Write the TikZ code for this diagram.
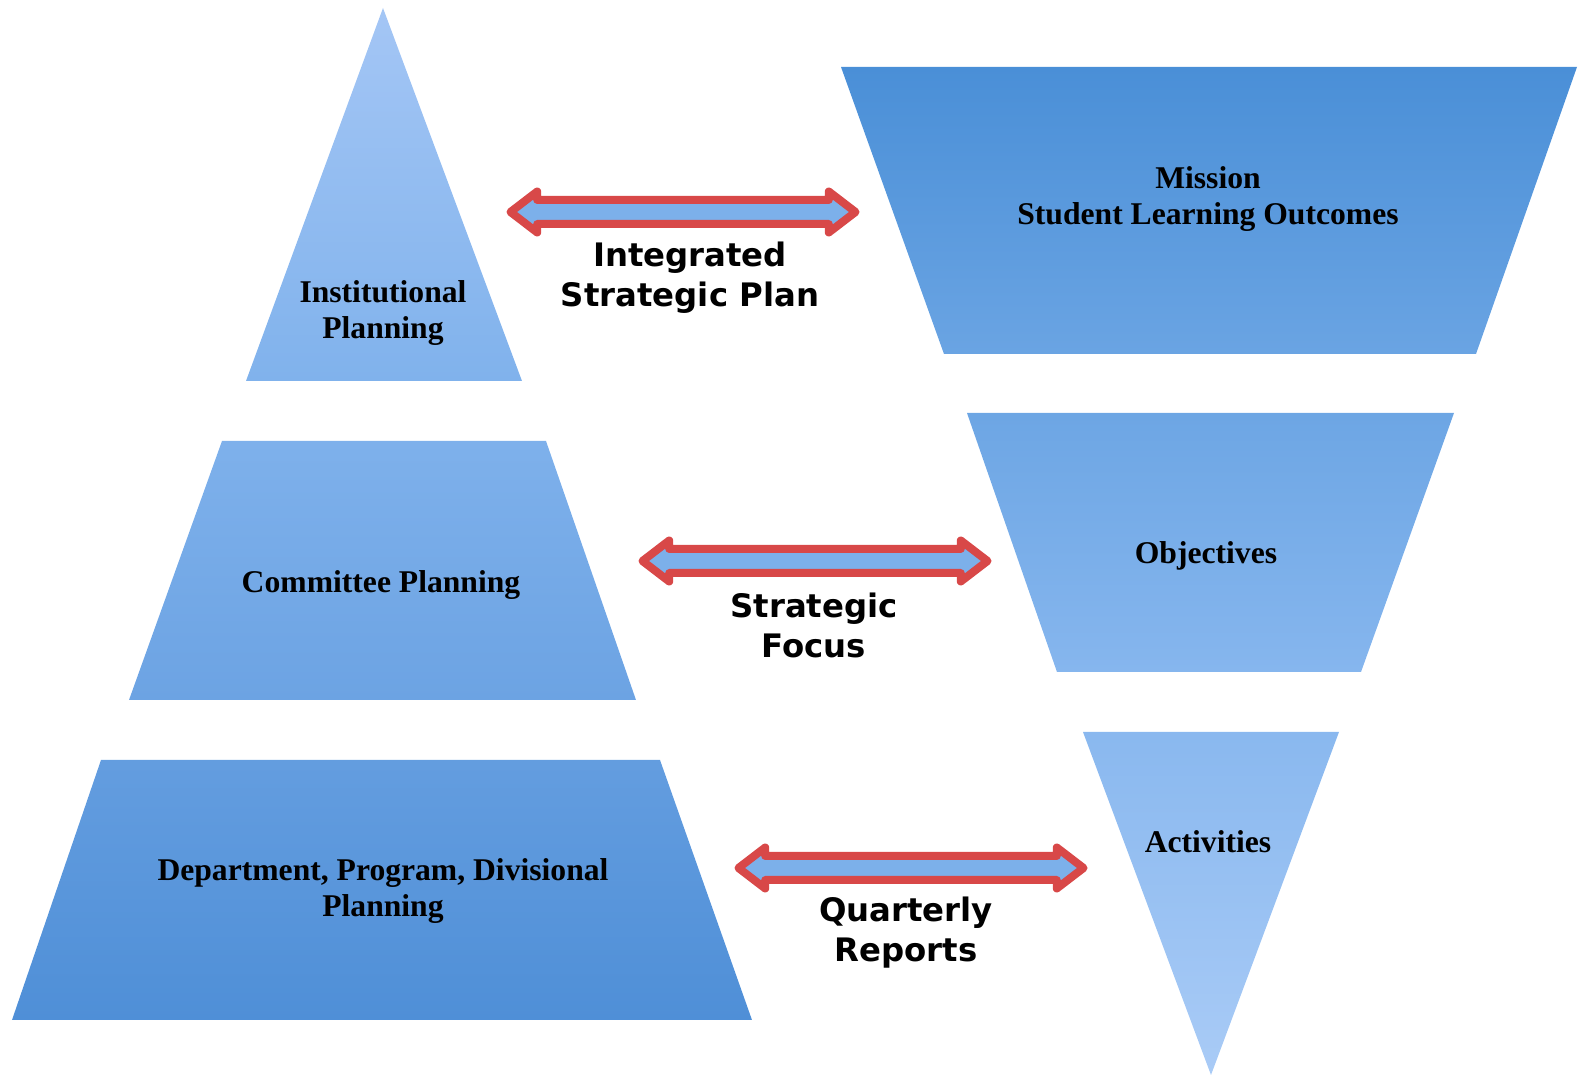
\documentclass[tikz,border=0pt]{standalone}
\usepackage{fontspec}
\setmainfont{Liberation Serif}
\newfontfamily\labelfont{DejaVu Sans}
\usetikzlibrary{shapes.arrows}

\definecolor{leftA}{HTML}{A4C6F5}
\definecolor{leftB}{HTML}{80B2EC}
\definecolor{leftC}{HTML}{6CA3E3}
\definecolor{leftD}{HTML}{4F8FD7}
\definecolor{rightA}{HTML}{4A8FD7}
\definecolor{rightB}{HTML}{6AA4E3}
\definecolor{rightC}{HTML}{86B6EE}
\definecolor{rightD}{HTML}{A9CBF6}
\definecolor{arrowblue}{HTML}{7CB0EA}
\definecolor{arrowred}{HTML}{D84848}

\tikzset{
  planlabel/.style={font=\fontsize{9}{10.2}\selectfont\bfseries, align=center, text=black},
  linklabel/.style={font=\labelfont\fontsize{9.2}{11.4}\selectfont\bfseries, align=center, text=black},
  linkarrow/.style={double arrow, fill=arrowblue, draw=arrowred, line width=0.8mm, line join=round,
    inner sep=0pt, inner ysep=0.8mm, double arrow head extend=0.85mm, double arrow tip angle=75,
    minimum height=34.5mm}
}

\begin{document}
\begin{tikzpicture}[x=0.1mm, y=-0.1mm]

\useasboundingbox (0,0) rectangle (1579,1076);

% left column: pyramid
\shade[top color=leftA, bottom color=leftB] (383,8) -- (522,381) -- (246,381) -- cycle;   %institutional
\shade[top color=leftB!90!leftC, bottom color=leftC] (222,441) -- (546,441) -- (636,700) -- (129,700) -- cycle;   %committee
\shade[top color=leftC!70!leftD, bottom color=leftD] (101,760) -- (660,760) -- (752,1020) -- (12,1020) -- cycle;   %department

% right column: inverted pyramid
\shade[top color=rightA, bottom color=rightB] (841,67) -- (1577,67) -- (1476,354) -- (944,354) -- cycle;   %mission
\shade[top color=rightB!90!rightC, bottom color=rightC] (967,413) -- (1454,413) -- (1361,672) -- (1057,672) -- cycle;   %objectives
\shade[top color=rightC!90!rightD, bottom color=rightD] (1083,732) -- (1339,732) -- (1211,1075) -- cycle;   %activities

\node[planlabel] (inst) at (383,313) {Institutional\\Planning};
\node[planlabel] (comm) at (381,585) {Committee Planning};
\node[planlabel] (dept) at (383,891) {Department, Program, Divisional\\Planning};

\node[planlabel] (mission) at (1208,199) {Mission\\Student Learning Outcomes};
\node[planlabel] (obj) at (1206,556) {Objectives};
\node[planlabel] (act) at (1208,842) {Activities};

% links between the two columns
\node[linkarrow] (isp) at (683,212) {};
\node[linkarrow] (focus) at (815,561) {};
\node[linkarrow] (reports) at (911,868) {};

\node[linklabel] (isplabel) at (690,278) {Integrated\\Strategic Plan};
\node[linklabel] (focuslabel) at (814,625) {Strategic\\Focus};
\node[linklabel] (reportslabel) at (906,933) {Quarterly\\Reports};

\end{tikzpicture}
\end{document}
